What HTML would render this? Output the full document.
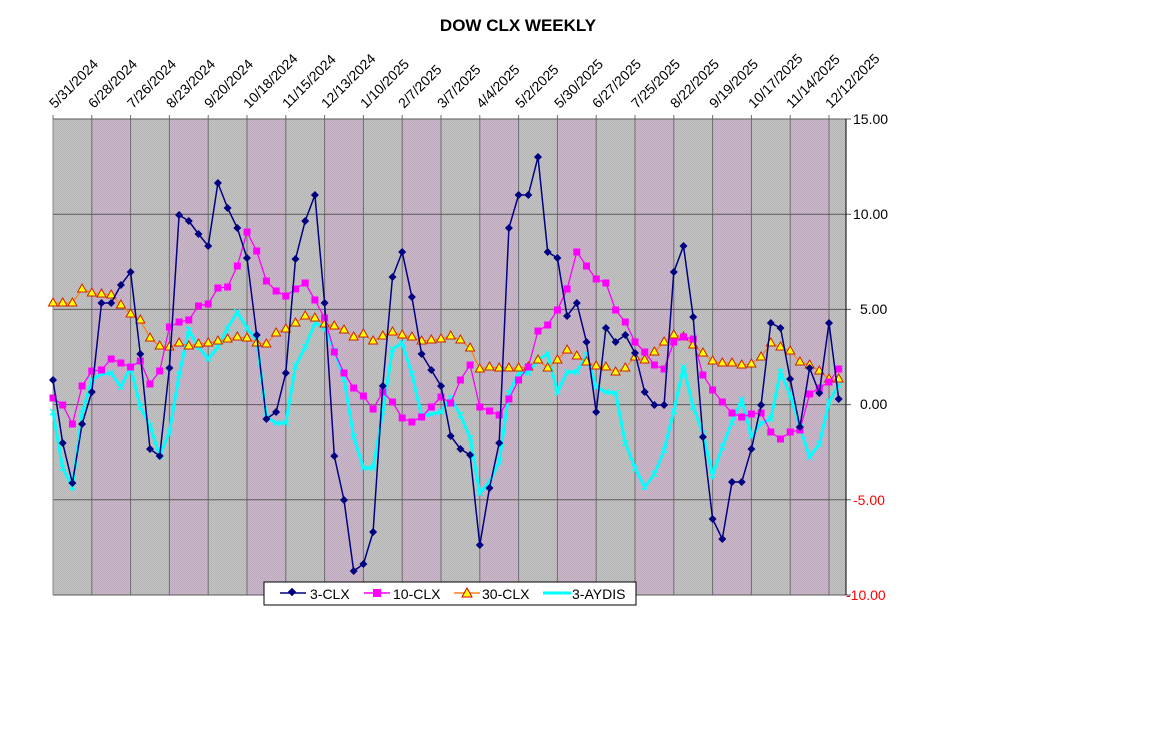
<!DOCTYPE html>
<html><head><meta charset="utf-8"><style>
body{margin:0;background:#fff;}
svg{display:block;font-family:"Liberation Sans",Arial,sans-serif;}
</style></head><body>
<svg id="s" width="1152" height="737" xmlns="http://www.w3.org/2000/svg">
<defs>
<pattern id="pg" width="2" height="2" patternUnits="userSpaceOnUse"><rect width="2" height="2" fill="#c4c4c4"/><rect width="1" height="1" fill="#b4b4b4"/><rect x="1" y="1" width="1" height="1" fill="#b4b4b4"/></pattern>
<pattern id="pp" width="2" height="2" patternUnits="userSpaceOnUse"><rect width="2" height="2" fill="#cdb8cd"/><rect width="1" height="1" fill="#b9a9b9"/><rect x="1" y="1" width="1" height="1" fill="#b9a9b9"/></pattern>
</defs>
<g id="bg"></g>
<text x="518" y="31" font-size="17" font-weight="bold" text-anchor="middle">DOW CLX WEEKLY</text>
<g font-size="14" fill="#000">
<text transform="translate(55,109) rotate(-45)">5/31/2024</text>
<text transform="translate(94,109) rotate(-45)">6/28/2024</text>
<text transform="translate(133,109) rotate(-45)">7/26/2024</text>
<text transform="translate(172,109) rotate(-45)">8/23/2024</text>
<text transform="translate(210,109) rotate(-45)">9/20/2024</text>
<text transform="translate(249,109) rotate(-45)">10/18/2024</text>
<text transform="translate(288,109) rotate(-45)">11/15/2024</text>
<text transform="translate(327,109) rotate(-45)">12/13/2024</text>
<text transform="translate(366,109) rotate(-45)">1/10/2025</text>
<text transform="translate(404,109) rotate(-45)">2/7/2025</text>
<text transform="translate(443,109) rotate(-45)">3/7/2025</text>
<text transform="translate(482,109) rotate(-45)">4/4/2025</text>
<text transform="translate(521,109) rotate(-45)">5/2/2025</text>
<text transform="translate(560,109) rotate(-45)">5/30/2025</text>
<text transform="translate(598,109) rotate(-45)">6/27/2025</text>
<text transform="translate(637,109) rotate(-45)">7/25/2025</text>
<text transform="translate(676,109) rotate(-45)">8/22/2025</text>
<text transform="translate(715,109) rotate(-45)">9/19/2025</text>
<text transform="translate(754,109) rotate(-45)">10/17/2025</text>
<text transform="translate(792,109) rotate(-45)">11/14/2025</text>
<text transform="translate(831,109) rotate(-45)">12/12/2025</text>
</g>
<g font-size="14">
<text x="853" y="124">15.00</text>
<text x="853" y="219">10.00</text>
<text x="860" y="314">5.00</text>
<text x="860" y="409">0.00</text>
<text x="853" y="505" fill="#ff0000">-5.00</text>
<text x="846" y="600" fill="#ff0000">-10.00</text>
</g>
<g id="series"></g>
<g>
<rect x="264" y="582" width="372" height="23" fill="#fff" stroke="#000" stroke-width="1"/>
<line x1="280" y1="593" x2="306" y2="593" stroke="#000080" stroke-width="1.5"/>
<rect x="289" y="589" width="6" height="6" fill="#000080" transform="rotate(45 292 592)"/>
<text x="310" y="599" font-size="14">3-CLX</text>
<line x1="364" y1="593" x2="390" y2="593" stroke="#ff00ff" stroke-width="1.5"/>
<rect x="373" y="589" width="8" height="8" fill="#ff00ff"/>
<text x="393" y="599" font-size="14">10-CLX</text>
<line x1="454" y1="593" x2="480" y2="593" stroke="#ff8020" stroke-width="1.5"/>
<polygon points="467,588 472,597 462,597" fill="#ffff00" stroke="#cc0000"/>
<text x="482" y="599" font-size="14">30-CLX</text>
<line x1="543" y1="593" x2="571" y2="593" stroke="#00ffff" stroke-width="3"/>
<text x="572" y="599" font-size="14">3-AYDIS</text>
</g>
</svg>
<script>
var NS="http://www.w3.org/2000/svg";
function el(t,a,p){var e=document.createElementNS(NS,t);for(var k in a)e.setAttribute(k,a[k]);p.appendChild(e);return e;}
var bg=document.getElementById('bg'),se=document.getElementById('series');
var L=53,R=846,T=119,B=595,gs=38.8;
for(var i=0;i<21;i++){var x0=L+i*gs,x1=Math.min(L+(i+1)*gs,R);
 el('rect',{x:x0,y:T,width:x1-x0,height:B-T,fill:i%2?'url(#pp)':'url(#pg)'},bg);}
for(var i=0;i<21;i++){var x=L+i*gs;el('line',{x1:x,y1:115,x2:x,y2:B,stroke:'#6e6e6e','stroke-width':1},bg);}
for(var j=0;j<6;j++){var y=T+j*95.2;el('line',{x1:L,y1:y,x2:R+5,y2:y,stroke:'#5a5a5a','stroke-width':1},bg);}
el('line',{x1:R,y1:T,x2:R,y2:B,stroke:'#000'},bg);
el('line',{x1:L,y1:T,x2:L,y2:B,stroke:'#888'},bg);
var sp=9.7;
var c3=[380,443,483,424,392,303,303,285,272,354,449,456,368,215,221,234,246,183,208,228,258,335,419,412,373,259,221,195,303,456,500,571,564,532,386,277,252,297,354,370,386,436,449,455,545,488,443,228,195,195,157,252,258,316,303,342,412,328,342,335,353,392,405,405,272,246,317,437,519,539,482,482,449,405,323,328,379,427,368,393,323,399];
var c10=[398,405,424,386,371,370,359,363,367,361,384,371,327,322,320,306,304,288,287,266,232,251,281,291,296,289,283,300,318,352,373,388,396,409,392,402,418,422,417,407,397,403,380,365,407,411,415,399,380,367,331,325,310,289,252,266,279,283,310,322,342,352,365,369,342,337,339,375,390,402,413,417,414,413,432,439,432,430,394,388,382,369];
var c30=[303,303,303,289,293,294,295,305,314,320,338,346,347,343,346,344,343,341,339,337,338,343,344,333,329,323,316,318,324,326,330,337,334,341,336,332,335,337,341,340,339,336,340,348,369,367,368,368,368,367,360,368,360,350,356,362,366,367,372,368,357,360,352,342,335,337,345,353,361,363,363,365,364,357,343,347,351,362,365,371,379,379];
var ay=[412,468,487,413,380,374,373,387,367,407,426,456,432,375,330,347,359,347,328,312,328,340,417,423,423,366,347,323,328,351,379,437,468,468,412,349,343,374,416,414,412,398,415,438,493,482,462,393,373,373,360,354,392,372,372,355,387,392,393,443,468,487,474,450,411,367,407,433,475,447,422,400,436,423,419,372,395,427,457,444,402,385];
function pts(a){return a.map(function(y,i){return (L+i*sp).toFixed(1)+','+y;}).join(' ');}
el('polyline',{points:pts(ay),fill:'none',stroke:'#00ffff','stroke-width':3},se);
ay.forEach(function(y,i){var x=L+i*sp;el('path',{d:'M'+(x-3)+' '+(y-3)+'L'+(x+3)+' '+(y+3)+'M'+(x+3)+' '+(y-3)+'L'+(x-3)+' '+(y+3),stroke:'#00ffff','stroke-width':1.2},se);});
el('polyline',{points:pts(c30),fill:'none',stroke:'#ff8020','stroke-width':1.3},se);
c30.forEach(function(y,i){var x=L+i*sp;el('polygon',{points:x+','+(y-5)+' '+(x+4.5)+','+(y+3)+' '+(x-4.5)+','+(y+3),fill:'#ffff00',stroke:'#cc2200','stroke-width':1},se);});
el('polyline',{points:pts(c10),fill:'none',stroke:'#ff00ff','stroke-width':1.3},se);
c10.forEach(function(y,i){var x=L+i*sp;el('rect',{x:x-3.5,y:y-3.5,width:7,height:7,fill:'#ff00ff'},se);});
el('polyline',{points:pts(c3),fill:'none',stroke:'#000080','stroke-width':1.5},se);
c3.forEach(function(y,i){var x=L+i*sp;el('polygon',{points:x+','+(y-4)+' '+(x+4)+','+y+' '+x+','+(y+4)+' '+(x-4)+','+y,fill:'#000080'},se);});
</script>
</body></html>
